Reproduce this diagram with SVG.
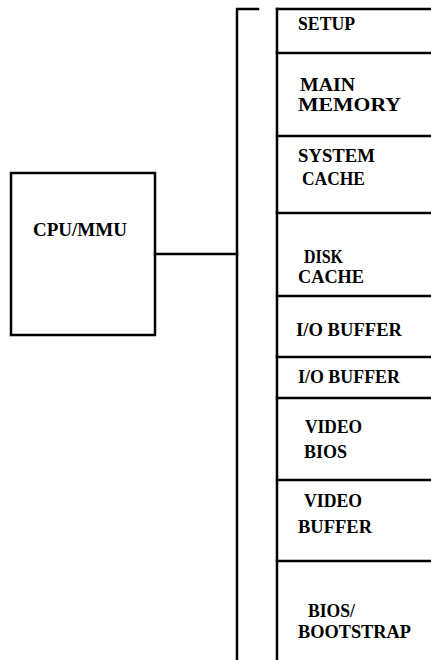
<svg xmlns="http://www.w3.org/2000/svg" width="431" height="660" viewBox="0 0 431 660">
<style>
.ln{fill:none;stroke:#000;stroke-width:2.5;stroke-linecap:square}
.bx{fill:#fff;stroke:#000;stroke-width:2.5}
.t{font-family:"Liberation Serif",serif;font-weight:bold;font-size:18px;fill:#000}
</style>
<rect width="431" height="660" fill="#fff"/>
<g id="cpu">
<rect class="bx" x="11" y="173" width="144" height="162"/>
<text class="t" x="33" y="236" textLength="94" lengthAdjust="spacingAndGlyphs">CPU/MMU</text>
</g>
<g id="bus">
<path class="ln" d="M258 9 H237 V660" stroke-width="3"/>
</g>
<g id="connectors">
<path class="ln" d="M155 254 H237"/>
</g>
<g id="memory">
<path class="ln" d="M277 660 V9" stroke-width="3"/>
<g id="setup"><path class="ln" d="M277 9 H431"/><text class="t" x="298" y="30" textLength="57" lengthAdjust="spacingAndGlyphs">SETUP</text></g>
<g id="main-memory"><path class="ln" d="M277 53 H431"/><text class="t" x="300" y="91" textLength="55" lengthAdjust="spacingAndGlyphs">MAIN</text><text class="t" x="298" y="111" textLength="103" lengthAdjust="spacingAndGlyphs">MEMORY</text></g>
<g id="system-cache"><path class="ln" d="M277 136 H431"/><text class="t" x="298" y="162" textLength="77" lengthAdjust="spacingAndGlyphs">SYSTEM</text><text class="t" x="302" y="185" textLength="63" lengthAdjust="spacingAndGlyphs">CACHE</text></g>
<g id="disk-cache"><path class="ln" d="M277 213 H431"/><text class="t" x="304" y="263" textLength="39" lengthAdjust="spacingAndGlyphs">DISK</text><text class="t" x="298" y="283" textLength="66" lengthAdjust="spacingAndGlyphs">CACHE</text></g>
<g id="io-buffer-1"><path class="ln" d="M277 296 H431"/><text class="t" x="296" y="336" textLength="106" lengthAdjust="spacingAndGlyphs">I/O BUFFER</text></g>
<g id="io-buffer-2"><path class="ln" d="M277 357 H431"/><text class="t" x="298" y="383" textLength="102" lengthAdjust="spacingAndGlyphs">I/O BUFFER</text></g>
<g id="video-bios"><path class="ln" d="M277 398 H431"/><text class="t" x="305" y="433" textLength="57" lengthAdjust="spacingAndGlyphs">VIDEO</text><text class="t" x="304" y="458" textLength="43" lengthAdjust="spacingAndGlyphs">BIOS</text></g>
<g id="video-buffer"><path class="ln" d="M277 480 H431"/><text class="t" x="304" y="507" textLength="58" lengthAdjust="spacingAndGlyphs">VIDEO</text><text class="t" x="298" y="533" textLength="74" lengthAdjust="spacingAndGlyphs">BUFFER</text></g>
<g id="bios-bootstrap"><path class="ln" d="M277 561 H431"/><text class="t" x="308" y="617" textLength="47" lengthAdjust="spacingAndGlyphs">BIOS/</text><text class="t" x="298" y="638" textLength="113" lengthAdjust="spacingAndGlyphs">BOOTSTRAP</text></g>
</g>
</svg>
